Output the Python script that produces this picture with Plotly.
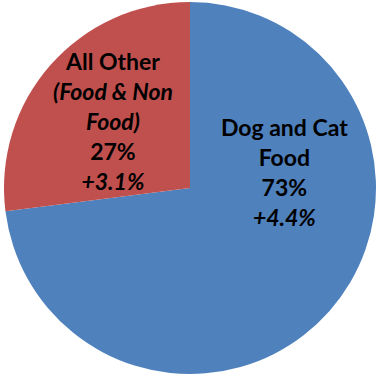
import plotly.graph_objects as go

# Share of category sales and year-over-year change
labels = ["Dog and Cat Food", "All Other (Food & Non Food)"]
shares = [73, 27]
changes = ["+4.4%", "+3.1%"]
colors = ["#4F81BD", "#C0504D"]

# Display lines for each slice name (italic part kept in HTML)
name_lines = [
    ["Dog and Cat", "Food"],
    ["All Other", "<i>(Food & Non</i>", "<i>Food)</i>"],
]
# Label anchor points (paper coordinates)
label_pos = [(284 / 380, 1 - 172 / 376), (113 / 380, 1 - 121 / 376)]

fig = go.Figure(
    go.Pie(
        labels=labels,
        values=shares,
        marker=dict(colors=colors, line=dict(width=0)),
        sort=False,
        direction="clockwise",
        rotation=0,
        textinfo="none",
        hoverinfo="label+percent",
        domain=dict(x=[0, 1], y=[2 / 376, 374 / 376]),
        showlegend=False,
    )
)

for lines, share, chg, (px, py) in zip(name_lines, shares, changes, label_pos):
    text = "<br>".join(lines + [f"{share}%", f"<i>{chg}</i>"])
    fig.add_annotation(
        x=px, y=py, xref="paper", yref="paper",
        text=f"<b>{text}</b>",
        showarrow=False,
        xanchor="center", yanchor="middle",
        align="center",
        font=dict(family="Lato, 'Open Sans', sans-serif", size=23, color="#000000"),
    )

fig.update_layout(
    width=380, height=376,
    margin=dict(l=0, r=0, t=0, b=0),
    paper_bgcolor="#FFFFFF",
    plot_bgcolor="#FFFFFF",
)

fig.write_html("out.html")
